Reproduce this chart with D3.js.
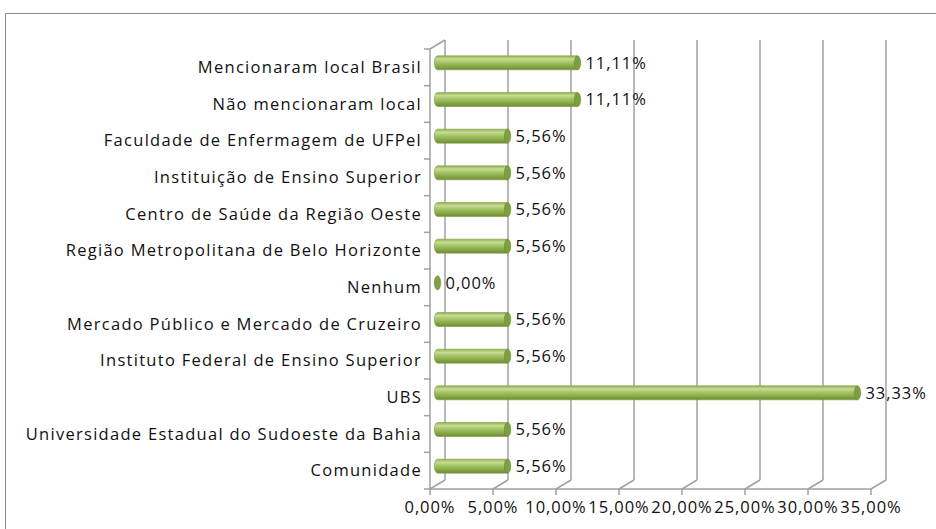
<!DOCTYPE html>
<html><head><meta charset="utf-8">
<script src="https://cdn.jsdelivr.net/npm/d3@7"></script>
<style>body{margin:0;background:#fff}svg{display:block}text{font-family:"Open Sans",sans-serif;fill:#111}</style>
</head><body><svg id="c" width="936" height="529"></svg>
<script>
const categories = ["Mencionaram local Brasil","Não mencionaram local","Faculdade de Enfermagem de UFPel","Instituição de Ensino Superior","Centro de Saúde da Região Oeste","Região Metropolitana de Belo Horizonte","Nenhum","Mercado Público e Mercado de Cruzeiro","Instituto Federal de Ensino Superior","UBS","Universidade Estadual do Sudoeste da Bahia","Comunidade"];
const values = [11.11, 11.11, 5.56, 5.56, 5.56, 5.56, 0, 5.56, 5.56, 33.33, 5.56, 5.56];
const ticks = [0, 5, 10, 15, 20, 25, 30, 35];

const svg = d3.select("#c");
const fmt = v => v.toFixed(2).replace(".", ",") + "%";
const DX = 15, DY = -9; // 3D depth offset
const x = d3.scaleLinear().domain([0, 35]).range([430, 871]);
const y = d3.scaleBand().domain(categories).range([49, 489]).paddingInner(0).paddingOuter(0);
const grid = "#a0a0a0";
const FS = 16.5;

// frame
svg.append("rect").attr("x",5.5).attr("y",13.5).attr("width",940).attr("height",530)
  .attr("fill","none").attr("stroke","#8c8c8c").attr("stroke-width",1);

const defs = svg.append("defs");
const g = defs.append("linearGradient").attr("id","cyl").attr("x1",0).attr("y1",0).attr("x2",0).attr("y2",1);
g.append("stop").attr("offset","0%").attr("stop-color","#8fb04a");
g.append("stop").attr("offset","22%").attr("stop-color","#c6dc96");
g.append("stop").attr("offset","50%").attr("stop-color","#a2c15f");
g.append("stop").attr("offset","100%").attr("stop-color","#6e8c34");

// back wall gridlines
const yTopBack = 49 + DY, yBotBack = 489 + DY;
svg.append("g").selectAll("line").data(ticks).join("line")
  .attr("x1", d => x(d) + DX).attr("x2", d => x(d) + DX)
  .attr("y1", yTopBack).attr("y2", yBotBack)
  .attr("stroke", grid).attr("stroke-width", 1.5);
// floor diagonals
svg.append("g").selectAll("line").data(ticks).join("line")
  .attr("x1", d => x(d)).attr("x2", d => x(d) + DX)
  .attr("y1", 489).attr("y2", yBotBack)
  .attr("stroke", grid).attr("stroke-width", 1.5);
// left wall
svg.append("line").attr("x1",430).attr("x2",430).attr("y1",49).attr("y2",489).attr("stroke",grid).attr("stroke-width",1.5);
svg.append("line").attr("x1",430).attr("x2",430+DX).attr("y1",49).attr("y2",49+DY).attr("stroke",grid).attr("stroke-width",1.5);
// category ticks
const edges = categories.map(c => y(c)).concat([489]);
svg.append("g").selectAll("line").data(edges).join("line")
  .attr("x1",424).attr("x2",430).attr("y1",d=>d).attr("y2",d=>d).attr("stroke",grid).attr("stroke-width",1.5);
// x axis front
svg.append("line").attr("x1",430).attr("x2",871).attr("y1",489).attr("y2",489).attr("stroke",grid).attr("stroke-width",1.5);
svg.append("g").selectAll("line").data(ticks).join("line")
  .attr("x1",d=>x(d)).attr("x2",d=>x(d)).attr("y1",489).attr("y2",495).attr("stroke",grid).attr("stroke-width",1.5);

// bars (cylinders at mid depth)
const bh = 14, rx = 3.2;
const bars = svg.append("g");
categories.forEach((c, i) => {
  const cy = y(c) + y.bandwidth()/2 + DY/2;
  const x0 = x(0) + DX/2, x1 = x(values[i]) + DX/2;
  const t = cy - bh/2, b = cy + bh/2;
  if (x1 - x0 > 0.5) {
    const p = `M${x0},${t} L${x1},${t} L${x1},${b} L${x0},${b} A${rx},${bh/2} 0 0 1 ${x0},${t} Z`;
    bars.append("path").attr("d", p).attr("fill","url(#cyl)").attr("stroke","#7f9e44").attr("stroke-width",0.6);
  }
  bars.append("ellipse").attr("cx", x1).attr("cy", cy).attr("rx", rx).attr("ry", bh/2)
    .attr("fill","#7d9f3e").attr("stroke","#6a8a30").attr("stroke-width",0.6);
  bars.append("text").attr("class","val").attr("x", x1 + 8).attr("y", cy).attr("dy","0.35em")
    .attr("font-size",FS).text(fmt(values[i]));
});

// category labels
const labs = svg.append("g").selectAll("text").data(categories).join("text")
  .attr("x", 422).attr("y", d => y(d) + y.bandwidth()/2).attr("dy","0.35em")
  .attr("text-anchor","end").attr("font-size",FS).text(d => d);
// calibrate letter spacing so longest label spans ~395px
const longest = labs.filter(d => d === "Universidade Estadual do Sudoeste da Bahia");
const w0 = longest.node().getComputedTextLength();
const n = "Universidade Estadual do Sudoeste da Bahia".length;
const ls = (395 - w0) / (n - 1);
labs.attr("letter-spacing", ls);

// tick labels
const tl = svg.append("g").selectAll("text").data(ticks).join("text")
  .attr("x", d => x(d)).attr("y", 507).attr("dy","0.35em").attr("text-anchor","middle")
  .attr("font-size",FS).text(d => fmt(d));
const tw0 = tl.filter(d => d === 0).node().getComputedTextLength();
const tls = (50 - tw0) / 4;
tl.attr("letter-spacing", tls);
svg.selectAll("text.val").attr("letter-spacing", tls);
</script></body></html>
